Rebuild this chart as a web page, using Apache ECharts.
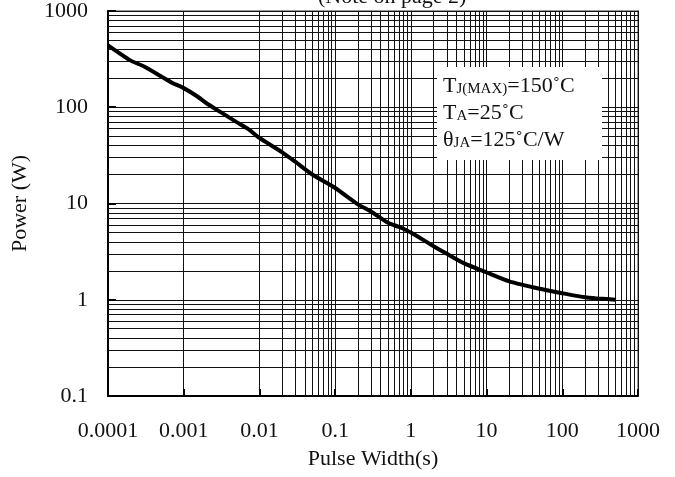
<!DOCTYPE html>
<html>
<head>
<meta charset="utf-8">
<script src="https://cdn.jsdelivr.net/npm/echarts@6/dist/echarts.min.js"></script>
<style>
  html, body { margin: 0; padding: 0; background: #fff; }
  #chart1 { width: 675px; height: 477px; }
</style>
</head>
<body>
<div id="chart1"></div>
<script>
// pulse width (s) vs peak power (W)
const pulseWidth = [0.0001, 0.0002, 0.0003, 0.0005, 0.0007, 0.001, 0.0015, 0.002, 0.003, 0.005, 0.007,
  0.01, 0.02, 0.03, 0.05, 0.1, 0.2, 0.3, 0.5, 0.7, 1, 2, 3, 5, 10, 20, 50, 100, 200, 300, 500]
const power = [440, 305, 265, 210, 180, 158, 130, 110, 90, 70, 60,
  48, 34, 27, 20, 14.5, 9.8, 8.2, 6.3, 5.7, 5.0, 3.6, 3.0, 2.4, 1.92, 1.55, 1.3, 1.17, 1.06, 1.03, 1.0]

const xTickLabels = ['0.0001', '0.001', '0.01', '0.1', '1', '10', '100', '1000']
const yTickLabels = ['0.1', '1', '10', '100', '1000']
const xDecades = [-4, -3, -2, -1, 0, 1, 2]
const yDecades = [-1, 0, 1, 2]
const minorSteps = [2, 3, 4, 5, 6, 7, 8, 9]

const serif = '"Liberation Serif", "Times New Roman", serif'

function labelFor (list, first) {
  return function (v) {
    let i = Math.round(Math.log10(v)) - first
    return list[i] !== undefined ? list[i] : ''
  }
}

// minor grid lines at 2..9 of each decade
let minorLines = []
xDecades.forEach(function (d) {
  minorSteps.forEach(function (m) { minorLines.push({ xAxis: m * Math.pow(10, d) }) })
})
yDecades.forEach(function (d) {
  minorSteps.forEach(function (m) { minorLines.push({ yAxis: m * Math.pow(10, d) }) })
})

let charts = echarts.init(document.getElementById('chart1'))
let option = {
  animation: false,
  grid: {
    left: 108, right: 37, top: 11, bottom: 81,
    containLabel: false, outerBoundsMode: 'none',
    show: true, borderColor: '#999', borderWidth: 2
  },
  xAxis: {
    type: 'log', logBase: 10, min: 0.0001, max: 1000,
    name: 'Pulse Width(s)', nameLocation: 'middle', nameGap: 52,
    nameTextStyle: { fontFamily: serif, fontSize: 22, color: '#111' },
    axisLine: { lineStyle: { color: '#000', width: 2 } },
    axisTick: { inside: true, length: 7, lineStyle: { color: '#000', width: 2 } },
    axisLabel: { margin: 24, fontFamily: serif, fontSize: 22, color: '#111', formatter: labelFor(xTickLabels, -4) },
    splitLine: { show: true, lineStyle: { color: '#111', width: 1 } }
  },
  yAxis: {
    type: 'log', logBase: 10, min: 0.1, max: 1000,
    name: 'Power (W)', nameLocation: 'middle', nameGap: 77,
    nameTextStyle: { fontFamily: serif, fontSize: 22, color: '#111' },
    axisLine: { lineStyle: { color: '#000', width: 2 } },
    axisTick: { inside: true, length: 8, lineStyle: { color: '#000', width: 2 } },
    axisLabel: { margin: 20, fontFamily: serif, fontSize: 22, color: '#111', formatter: labelFor(yTickLabels, -1) },
    splitLine: { show: true, lineStyle: { color: '#111', width: 1 } }
  },
  series: [
    {
      type: 'line',
      data: [],
      silent: true,
      markLine: {
        silent: true,
        symbol: 'none',
        animation: false,
        label: { show: false },
        lineStyle: { color: '#111', width: 1, type: 'solid' },
        data: minorLines
      }
    },
    {
      name: 'Power',
      type: 'line',
      data: pulseWidth.map(function (x, i) { return [x, power[i]] }),
      showSymbol: false,
      smooth: 0.2,
      z: 5,
      lineStyle: { color: '#000', width: 4 }
    }
  ],
  graphic: [
    {
      type: 'rect', z: 100,
      shape: { x: 437, y: 67, width: 165, height: 93 },
      style: { fill: '#fff' }
    },
    {
      type: 'text', z: 101, left: 443, top: 75,
      style: {
        text: '{m|T}{s|J(MAX)}{m|=150˚C}\n{m|T}{s|A}{m|=25˚C}\n{m|θ}{s|JA}{m|=125˚C/W}',
        fontFamily: serif,
        fill: '#111',
        rich: {
          m: { fontSize: 22, lineHeight: 27, fontFamily: serif, fill: '#111' },
          s: { fontSize: 15, lineHeight: 27, fontFamily: serif, fill: '#111', verticalAlign: 'bottom', padding: [0, 0, 3, 0] }
        }
      }
    },
    {
      type: 'text', z: 101, left: 318, top: -14,
      style: { text: '(Note on page 2)', fontFamily: serif, fontSize: 22, fill: '#111' }
    }
  ]
}
charts.setOption(option)
window.addEventListener('resize', function () {
  charts.resize()
})
</script>
</body>
</html>
